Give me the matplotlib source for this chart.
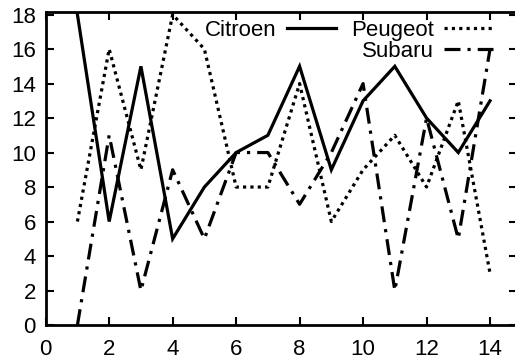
import matplotlib
matplotlib.use("Agg")
import matplotlib.pyplot as plt
from matplotlib.lines import Line2D

x = [1, 2, 3, 4, 5, 6, 7, 8, 9, 10, 11, 12, 13, 14]
citroen = [18, 6, 15, 5, 8, 10, 11, 15, 9, 13, 15, 12, 10, 13]
peugeot = [6, 16, 9, 18, 16, 8, 8, 14, 6, 9, 11, 8, 13, 3]
subaru = [0, 11, 2, 9, 5, 10, 10, 7, 10, 14, 2, 12, 5, 16]
xticks = [0, 2, 4, 6, 8, 10, 12, 14]
yticks = [0, 2, 4, 6, 8, 10, 12, 14, 16, 18]

plt.rcParams['font.family'] = ['Liberation Sans', 'DejaVu Sans']
fig = plt.figure(figsize=(5.15, 3.61), dpi=100)
ax = fig.add_axes([45.7 / 515, 1 - 325 / 361, (517 - 45.7) / 515, (325 - 12) / 361])

lw = 2.3
l1, = ax.plot(x, citroen, color='black', lw=lw, solid_joinstyle='miter', label='Citroen')
l2, = ax.plot(x, peugeot, color='black', lw=lw, linestyle=(0, (1.0, 1.3)), dash_capstyle='butt', label='Peugeot')
l3, = ax.plot(x, subaru, color='black', lw=lw, linestyle=(0, (5, 2.2, 1, 2.2)), dash_capstyle='butt', label='Subaru')

ax.set_xlim(0, 14.85)
ax.set_ylim(0, 18.15)
ax.set_xticks(xticks)
ax.set_yticks(yticks)
ax.tick_params(direction='in', length=6, width=1.5, labelsize=16, top=True, right=True)
ax.tick_params(axis='x', pad=10)
ax.tick_params(axis='y', pad=7)
for s in ax.spines.values():
    s.set_linewidth(2)

blank = Line2D([], [], color='none')
leg = ax.legend([l1, blank, l2, l3], ['Citroen', '', 'Peugeot', 'Subaru'], ncol=2,
                loc='upper right', bbox_to_anchor=(0.949, 0.975), frameon=False, markerfirst=False,
                fontsize=16, handlelength=2.2, handletextpad=0.45, columnspacing=0.7,
                labelspacing=0.0, borderpad=0.0, borderaxespad=0.0)

fig.savefig('out.png', dpi=100)
